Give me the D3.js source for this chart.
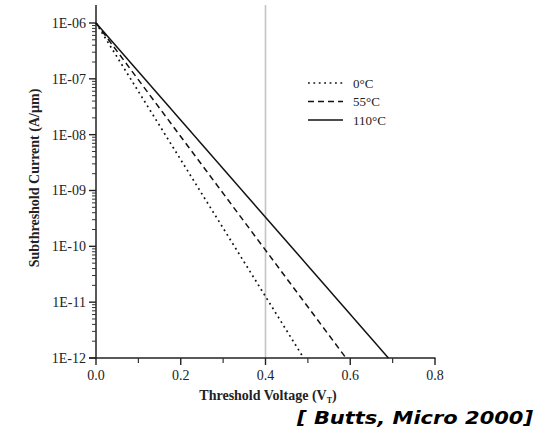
<!DOCTYPE html>
<html>
<head>
<meta charset="utf-8">
<script src="https://cdn.jsdelivr.net/npm/d3@7"></script>
<style>
  body { margin: 0; background: #fff; }
  svg text { font-family: "Liberation Serif", "DejaVu Serif", serif; fill: #222; }
  .cite { font-family: "DejaVu Sans", sans-serif; font-weight: bold; font-style: italic; fill: #000; }
</style>
</head>
<body>
<div id="chart"></div>
<script>
// series: each temperature line, from (V, I) start to end
const temps = ["0°C", "55°C", "110°C"];
const voltages = [[0, 0.49], [0, 0.59], [0, 0.69]];
const currents = [[1e-6, 1e-12], [1e-6, 1e-12], [1e-6, 1e-12]];
const dashes = ["1.8,3.6", "6,4", null];

const xTicks = [0, 0.2, 0.4, 0.6, 0.8];
const xMinor = [0.1, 0.3, 0.5, 0.7];
const yExps = [-6, -7, -8, -9, -10, -11, -12];
const markerV = 0.4;

var width = 546, height = 430;

var svg = d3.select("#chart").append("svg")
    .attr("width", width)
    .attr("height", height);

var x = d3.scaleLinear().domain([0, 0.8]).range([96, 435]);
var y = d3.scaleLog().domain([1e-12, 1e-6]).range([358, 23]);
var yTop = 5;

// gray marker line at 0.4 V
svg.append("line")
    .attr("x1", x(markerV)).attr("x2", x(markerV))
    .attr("y1", yTop).attr("y2", y(1e-12))
    .attr("stroke", "#c4c4c4")
    .attr("stroke-width", 1.6);

// y axis
var yMinor = [];
for (var e = -12; e < -6; e++) {
    for (var m = 2; m <= 9; m++) yMinor.push(m * Math.pow(10, e));
}
var gy = svg.append("g");
gy.append("line")
    .attr("x1", x(0)).attr("x2", x(0))
    .attr("y1", yTop).attr("y2", y(1e-12) + 0.5)
    .attr("stroke", "#222").attr("stroke-width", 1.5);
gy.selectAll(".minor").data(yMinor).enter().append("line")
    .attr("x1", x(0) - 4).attr("x2", x(0))
    .attr("y1", d => y(d)).attr("y2", d => y(d))
    .attr("stroke", "#333").attr("stroke-width", 1);
gy.selectAll(".major").data(yExps).enter().append("line")
    .attr("x1", x(0) - 7).attr("x2", x(0))
    .attr("y1", d => y(Math.pow(10, d))).attr("y2", d => y(Math.pow(10, d)))
    .attr("stroke", "#222").attr("stroke-width", 1.4);
gy.selectAll("text").data(yExps).enter().append("text")
    .attr("x", x(0) - 10)
    .attr("y", d => y(Math.pow(10, d)))
    .attr("dy", "0.35em")
    .attr("text-anchor", "end")
    .style("font-size", "14px")
    .text(d => "1E-" + String(-d).padStart(2, "0"));

// x axis
var gx = svg.append("g");
gx.append("line")
    .attr("x1", x(0) - 7).attr("x2", x(0.8) + 0.5)
    .attr("y1", y(1e-12)).attr("y2", y(1e-12))
    .attr("stroke", "#222").attr("stroke-width", 1.5);
gx.selectAll(".minor").data(xMinor).enter().append("line")
    .attr("x1", d => x(d)).attr("x2", d => x(d))
    .attr("y1", y(1e-12)).attr("y2", y(1e-12) + 5)
    .attr("stroke", "#333").attr("stroke-width", 1.2);
gx.selectAll(".major").data(xTicks).enter().append("line")
    .attr("x1", d => x(d)).attr("x2", d => x(d))
    .attr("y1", y(1e-12)).attr("y2", y(1e-12) + 7)
    .attr("stroke", "#222").attr("stroke-width", 1.4);
gx.selectAll("text").data(xTicks).enter().append("text")
    .attr("x", d => x(d))
    .attr("y", y(1e-12) + 22)
    .attr("text-anchor", "middle")
    .style("font-size", "14px")
    .text(d => d.toFixed(1));

// lines
var line = d3.line().x(d => x(d[0])).y(d => y(d[1]));
temps.forEach(function (t, i) {
    var pts = voltages[i].map((v, j) => [v, currents[i][j]]);
    svg.append("path")
        .attr("d", line(pts))
        .attr("fill", "none")
        .attr("stroke", "#111")
        .attr("stroke-width", i == 0 ? 1.7 : 1.5)
        .attr("stroke-dasharray", dashes[i]);
});

// legend
var legend = svg.append("g").attr("transform", "translate(308, 83)");
temps.forEach(function (t, i) {
    legend.append("line")
        .attr("x1", 0).attr("x2", 35)
        .attr("y1", i * 18.5).attr("y2", i * 18.5)
        .attr("stroke", "#111").attr("stroke-width", 1.5)
        .attr("stroke-dasharray", dashes[i]);
    legend.append("text")
        .attr("x", 45).attr("y", i * 18.5)
        .attr("dy", "0.35em")
        .style("font-size", "13px")
        .text(t);
});

// axis labels
svg.append("text")
    .attr("transform", "translate(39, 178) rotate(-90)")
    .attr("text-anchor", "middle")
    .style("font-size", "14px")
    .style("font-weight", "bold")
    .text("Subthreshold Current (A/\u00b5m)");

var xl = svg.append("text")
    .attr("x", 268).attr("y", 400)
    .attr("text-anchor", "middle")
    .style("font-size", "14px")
    .style("font-weight", "bold");
xl.append("tspan").text("Threshold Voltage (V");
xl.append("tspan").attr("dy", 3).style("font-size", "8px").text("T");
xl.append("tspan").attr("dy", -3).text(")");

// citation
svg.append("text")
    .attr("class", "cite")
    .attr("x", 297).attr("y", 424)
    .attr("textLength", 236)
    .attr("lengthAdjust", "spacingAndGlyphs")
    .style("font-size", "18px")
    .text("[ Butts, Micro 2000]");
</script>
</body>
</html>
